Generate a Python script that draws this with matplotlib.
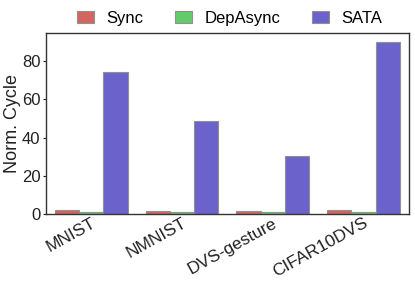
import numpy as np
import matplotlib
matplotlib.use("Agg")
import matplotlib.pyplot as plt

plt.rcParams['font.family'] = ['Liberation Sans', 'DejaVu Sans']

datasets = ['MNIST', 'NMNIST', 'DVS-gesture', 'CIFAR10DVS']
series = ['Sync', 'DepAsync', 'SATA']
sync = [1.9, 1.6, 1.8, 2.0]
dep_async = [1.0, 1.0, 1.0, 1.0]
sata = [74.2, 48.4, 30.3, 89.8]
colors = ['#d2665f', '#63cc6a', '#6c62cc']

fig, ax = plt.subplots(figsize=(4.15, 2.85), dpi=100)
x = np.arange(len(datasets))
w = 0.8 / 3
for i, (name, vals, c) in enumerate(zip(series, [sync, dep_async, sata], colors)):
    ax.bar(x + (i - 1) * w, vals, w, color=c, edgecolor='#909090',
           linewidth=0.8, label=name)

ax.set_xlim(-0.5, 3.5)
ax.set_ylim(0, 94.6)
ax.set_yticks([0, 20, 40, 60, 80])
ax.set_xticks(x)
ax.set_xticklabels(datasets, rotation=29, ha='right', rotation_mode='anchor')
ax.tick_params(axis='both', labelsize=12.5, colors='#222222')
ax.tick_params(axis='y', labelsize=12)
ax.tick_params(axis='x', length=0, pad=1)
ax.tick_params(axis='y', length=2, width=0.8, pad=2)
ax.set_ylabel('Norm. Cycle', fontsize=13, color='#222222')
ax.yaxis.set_label_coords(-0.069, 0.5)
for s in ax.spines.values():
    s.set_color('#333333')
    s.set_linewidth(1.0)

ax.legend(loc='lower center', bbox_to_anchor=(0.506, 0.985), ncol=3, frameon=False,
          fontsize=12, handlelength=1.0, handleheight=0.7, handletextpad=0.75,
          columnspacing=1.9, borderaxespad=0.2)

fig.subplots_adjust(left=0.111, right=0.985, top=0.884, bottom=0.249)
fig.savefig('out.png', dpi=100)
